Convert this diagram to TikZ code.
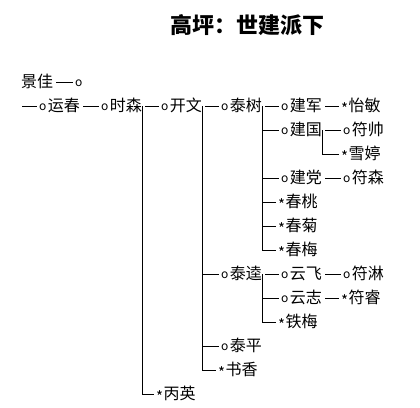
\documentclass[tikz,border=0pt]{standalone}
\usepackage{fontspec}
\newfontfamily\cjk{Noto Sans CJK SC}
\usetikzlibrary{positioning}
\newcommand{\mko}{\raisebox{1.5pt}{\fontsize{12}{12}\selectfont o}\kern1.5pt}
\newcommand{\mka}{\raisebox{-3pt}{\fontsize{15}{15}\selectfont *}\kern0.5pt}

\begin{document}
\begin{tikzpicture}[x=1pt, y=-1pt,
  person/.style={anchor=west, inner sep=0pt, text height=13.5pt, text depth=2pt,
                 font=\cjk\fontsize{16}{16}\selectfont},
  link/.style={line width=0.8pt, shorten <=3pt, shorten >=2pt},
  branch/.style={line width=0.8pt, shorten >=2pt}
]
  \useasboundingbox (0,0) rectangle (420,407);

  % Title
  \node[font=\cjk\bfseries\fontsize{22}{22}\selectfont] (title) at (247,25) {高坪：世建派下};

  % Generations
  \node[person] (jingjia) at (21,82) {景佳};
  \node[person] (jjmark) at (75,82) {\mko};
  \coordinate (root) at (22,106);
  \node[person] (yunchun) at (39,106) {\mko 运春};
  \node[person] (shisen) at (101,106) {\mko 时森};
  \node[person] (kaiwen) at (161,106) {\mko 开文};
  \node[person] (taishu) at (221,106) {\mko 泰树};
  \node[person] (jianjun) at (281,106) {\mko 建军};
  \node[person] (yimin) at (341,106) {\mka 怡敏};
  \node[person] (jianguo) at (281,130) {\mko 建国};
  \node[person] (fushuai) at (343,130) {\mko 符帅};
  \node[person] (xueting) at (341,154) {\mka 雪婷};
  \node[person] (jiandang) at (281,178) {\mko 建党};
  \node[person] (fusen) at (343,178) {\mko 符森};
  \node[person] (chuntao) at (278,202) {\mka 春桃};
  \node[person] (chunju) at (278,226) {\mka 春菊};
  \node[person] (chunmei) at (278,250) {\mka 春梅};
  \node[person] (taikui) at (221,274) {\mko 泰逵};
  \node[person] (yunfei) at (281,274) {\mko 云飞};
  \node[person] (fulin) at (343,274) {\mko 符淋};
  \node[person] (yunzhi) at (281,298) {\mko 云志};
  \node[person] (furui) at (341,298) {\mka 符睿};
  \node[person] (tiemei) at (278,322) {\mka 铁梅};
  \node[person] (taiping) at (221,346) {\mko 泰平};
  \node[person] (shuxiang) at (218,370) {\mka 书香};
  \node[person] (bingying) at (156,394) {\mka 丙英};

  % Lines
  \draw[link] (jingjia) -- (jjmark);
  \draw[branch] (root) -- (yunchun);
  \draw[link] (yunchun) -- (shisen);
  \draw[link] (shisen) -- (kaiwen);
  \draw[link] (kaiwen) -- (taishu);
  \draw[link] (taishu) -- (jianjun);
  \draw[link] (jianjun) -- (yimin);
  \draw[link] (jianguo) -- (fushuai);
  \draw[link] (jiandang) -- (fusen);
  \draw[link] (taikui) -- (yunfei);
  \draw[link] (yunfei) -- (fulin);
  \draw[link] (yunzhi) -- (furui);
  \draw[branch] (shisen.east) |- (bingying.west);
  \draw[branch] (kaiwen.east) |- (shuxiang.west);
  \foreach \c in {taikui, taiping} \draw[branch] (kaiwen.east) |- (\c.west);
  \draw[branch] (taishu.east) |- (chunmei.west);
  \foreach \c in {jianguo, jiandang, chuntao, chunju} \draw[branch] (taishu.east) |- (\c.west);
  \draw[branch] (jianguo.east) |- (xueting.west);
  \draw[branch] (taikui.east) |- (tiemei.west);
  \draw[branch] (taikui.east) |- (yunzhi.west);
\end{tikzpicture}
\end{document}
